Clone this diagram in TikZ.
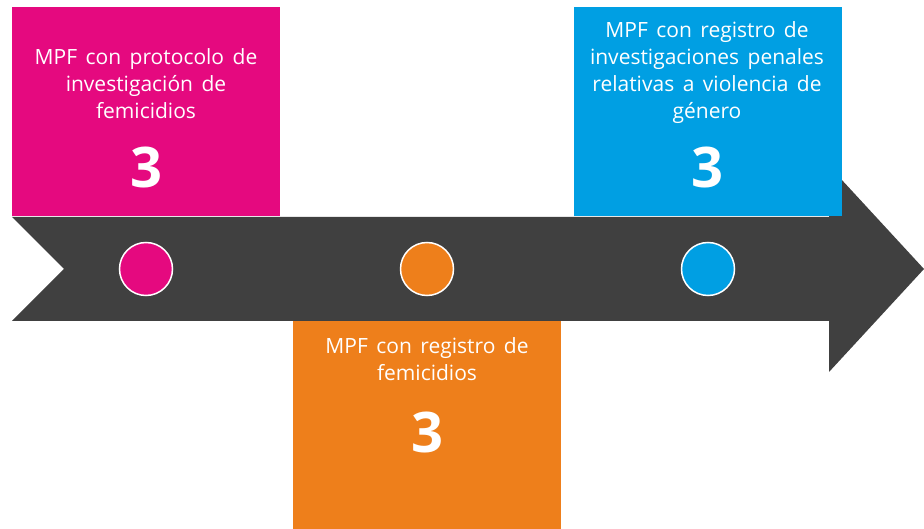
\documentclass[tikz,border=0pt]{standalone}
\usepackage{fontspec}
\setmainfont{Open Sans}
\definecolor{mpfpink}{HTML}{E5097F}
\definecolor{mpforange}{HTML}{EE7F1B}
\definecolor{mpfblue}{HTML}{009FE3}
\definecolor{mpfgray}{HTML}{404040}
\newcommand{\widespace}{\spaceskip=8.5pt plus 1pt\relax}

\begin{document}
\begin{tikzpicture}[x=1pt,y=1pt]
	\tikzstyle{every node}+=[inner sep=0pt]
	\tikzstyle{box}=[rectangle, minimum width=268, minimum height=209, anchor=north west]
	\tikzstyle{lbl}=[text=white, align=center, anchor=north, font=\fontsize{21}{27}\selectfont\widespace]
	\tikzstyle{num}=[text=white, anchor=base, font=\fontsize{56}{56}\selectfont\bfseries]
	\tikzstyle{dot}=[circle, minimum size=53, draw=white, line width=1.5pt]
	\useasboundingbox (0,0) rectangle (924,-529);
	\fill [mpfgray] (12,-217) -- (829,-217) -- (829,-166) -- (924,-269) -- (829,-372) -- (829,-321) -- (12,-321) -- (64,-269) -- cycle;
	\node [box, fill=mpfpink] (pbox) at (12,-7) {};
	\node [box, fill=mpfblue] (bbox) at (574,-7) {};
	\node [box, fill=mpforange] (obox) at (293,-321) {};
	\node [lbl] (ptext) at (146,-48) {MPF con protocolo de\\investigación de\\femicidios};
	\node [num] (pnum) at (146,-188) {3};
	\node [lbl] (btext) at (707,-21) {MPF con registro de\\investigaciones penales\\relativas a violencia de\\género};
	\node [num] (bnum) at (707,-188) {3};
	\node [lbl] (otext) at (427,-337) {MPF con registro de\\femicidios};
	\node [num] (onum) at (427,-452) {3};
	\node [dot, fill=mpfpink] (pdot) at (146,-269) {};
	\node [dot, fill=mpforange] (odot) at (427,-269) {};
	\node [dot, fill=mpfblue] (bdot) at (708,-269) {};
\end{tikzpicture}
\end{document}
